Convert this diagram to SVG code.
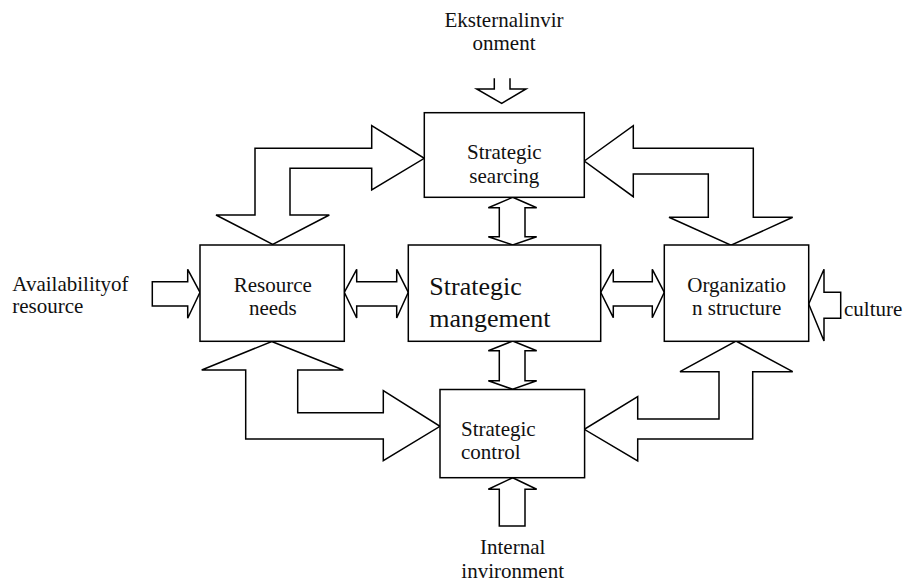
<svg xmlns="http://www.w3.org/2000/svg" width="905" height="583" viewBox="0 0 905 583">
<style>
.box{fill:#fff;stroke:#000;stroke-width:1.5}
.arr{fill:#fff;stroke:#000;stroke-width:1.5;stroke-linejoin:miter}
text{font-size:21px;fill:#111}
.c{text-anchor:middle}
.big{font-size:26px}
</style>
<rect width="905" height="583" fill="#fff"/>
<g id="connectors">
<polyline class="arr" points="494.3,78.3 494.3,89 476.7,89 501.7,103.3 526,89 510,89 510,78.3"/>
<polygon class="arr" points="255,148.3 371.7,148.3 371.7,125.7 424.3,158.3 371.7,190 371.7,168.3 290,168.3 290,215 329.3,215 272.7,244.3 216,215 255,215"/>
<polygon class="arr" points="584.3,161 633.3,125.7 633.3,148.3 753.3,148.3 753.3,217.3 792.7,217.3 731,245.3 669,217.3 708.3,217.3 708.3,174 633.3,174 633.3,196.7"/>
<polygon class="arr" points="271.7,341.5 343.3,370 297.7,370 297.7,412.7 383.3,412.7 383.3,390.7 440,426.3 383.3,460.7 383.3,439 245.7,439 245.7,370 201.7,370"/>
<polygon class="arr" points="736,341 792.7,371.7 752.7,371.7 752.7,439 637.7,439 637.7,461 584.3,429.3 637.7,396.7 637.7,419 719,419 719,371.7 680,371.7"/>
<polygon class="arr" points="152.3,281.7 187.7,281.7 187.7,269.3 200,292.3 187.7,318.3 187.7,306 152.3,306"/>
<polygon class="arr" points="344.3,292.3 356.7,269.3 356.7,281.7 396.7,281.7 396.7,269.3 408.3,292.3 396.7,318 396.7,306 356.7,306 356.7,318"/>
<polygon class="arr" points="600.7,292.3 613.3,269.3 613.3,281.7 652.3,281.7 652.3,269.3 664.3,292.3 652.3,317.7 652.3,306 613.3,306 613.3,317.7"/>
<polygon class="arr" points="808.7,304 824,269.3 824,292.3 840.7,292.3 840.7,318.3 824,318.3 824,341"/>
<polygon class="arr" points="512.7,197.3 536.7,207.7 525,207.7 525,236.7 536.7,236.7 512.7,245 488.3,236.7 499.3,236.7 499.3,207.7 488.3,207.7"/>
<polygon class="arr" points="512.7,341 536.7,350.7 525,350.7 525,380.7 536.7,380.7 512.7,389.3 488.3,380.7 499.3,380.7 499.3,350.7 488.3,350.7"/>
<polygon class="arr" points="512.7,477.7 536.7,489.3 525,489.3 525,526 499.3,526 499.3,489.3 488.3,489.3"/>
</g>
<g id="searcing">
<rect class="box" x="424.3" y="112.7" width="160" height="84.6"/>
<text class="c" x="504.3" y="159.3" font-family="Liberation Serif">Strategic</text>
<text class="c" x="504.3" y="183.3" font-family="Liberation Serif">searcing</text>
</g>
<g id="resource">
<rect class="box" x="200" y="245" width="144.3" height="96.3"/>
<text class="c" x="272.8" y="291.7" font-family="Times New Roman, DejaVu Serif, serif">Resource</text>
<text class="c" x="272.8" y="315" font-family="Times New Roman, DejaVu Serif, serif">needs</text>
</g>
<g id="management">
<rect class="box" x="408.3" y="245" width="192.4" height="96.3"/>
<text class="big" x="429.3" y="295" font-family="serif">Strategic</text>
<text class="big" x="429.3" y="326.7" font-family="serif">mangement</text>
</g>
<g id="organization">
<rect class="box" x="664.3" y="245" width="144.4" height="96.3"/>
<text class="c" x="736.7" y="291.7" font-family="Times New Roman">Organizatio</text>
<text class="c" x="736.7" y="315" font-family="Times New Roman">n structure</text>
</g>
<g id="control">
<rect class="box" x="440" y="389.5" width="144.6" height="88.2"/>
<text x="461" y="436" style="font-family:'Liberation Serif'">Strategic</text>
<text x="461" y="459.3" style="font-family:'Liberation Serif'">control</text>
</g>
<g id="external">
<text class="c" x="504" y="26.7" font-family="serif">Eksternalinvir</text>
<text class="c" x="504" y="50" font-family="serif">onment</text>
</g>
<g id="availability">
<text x="12.3" y="291" font-family="Times New Roman">Availabilityof</text>
<text x="12.3" y="313.3" font-family="Times New Roman">resource</text>
</g>
<g id="culture">
<text x="844" y="315.5" font-family="serif">culture</text>
</g>
<g id="internal">
<text class="c" x="512.7" y="554" font-family="Liberation Serif">Internal</text>
<text class="c" x="512.7" y="577.7" font-family="Liberation Serif">invironment</text>
</g>
</svg>
